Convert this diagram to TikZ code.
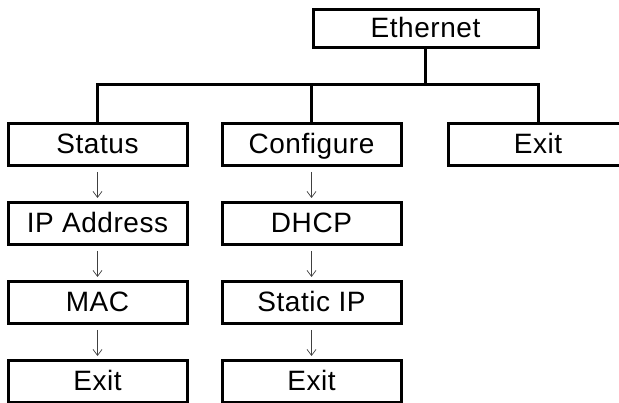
\documentclass[tikz,border=0pt]{standalone}
\usepackage{fontspec}
\setmainfont{Liberation Sans}[LetterSpace=2]
\usepackage{tikz}
\usetikzlibrary{arrows.meta, positioning}

\begin{document}
\begin{tikzpicture}[
    x=1pt, y=-1pt,
    node distance=37pt,
    box/.style={rectangle, draw, line width=3pt, outer sep=0pt, minimum width=179pt, minimum height=42pt, inner sep=0pt, text height=20pt, text depth=3pt, font=\fontsize{28}{32}\selectfont},
    link/.style={line width=3pt},
    arrow/.style={-{Straight Barb[length=6pt, width=9pt]}, line width=0.7pt, black!75, shorten <=6pt, shorten >=5pt}
]
\clip (0,0) rectangle (619,403);
\node[box, minimum width=225pt, minimum height=38pt] (eth) at (425.5,29) {Ethernet};
\node[box] (status) at (97.5,145) {Status};
\node[box] (config) at (311.5,145) {Configure};
\node[box] (exit) at (538,145) {Exit};

\node[box, below=of status] (ip) {IP Address};
\node[box, below=of ip] (mac) {MAC};
\node[box, below=of mac] (sexit) {Exit};
\node[box, below=of config] (dhcp) {DHCP};
\node[box, below=of dhcp] (static) {Static IP};
\node[box, below=of static] (cexit) {Exit};

% tree links
\coordinate (bus) at (425.5,85);
\draw[link] (eth.south) -- (bus);
\draw[link] (status.north) |- (bus) -| (exit.north);
\draw[link] (config.north) -- (config.north |- bus);

% menu steps
\draw[arrow] (status) -- (ip);
\draw[arrow] (ip) -- (mac);
\draw[arrow] (mac) -- (sexit);
\draw[arrow] (config) -- (dhcp);
\draw[arrow] (dhcp) -- (static);
\draw[arrow] (static) -- (cexit);
\end{tikzpicture}
\end{document}
